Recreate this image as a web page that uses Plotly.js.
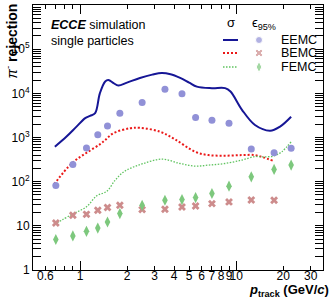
<!DOCTYPE html>
<html><head><meta charset="utf-8">
<script src="https://cdn.plot.ly/plotly-3.0.1.min.js"></script>
<style>html,body{margin:0;padding:0;background:#fff}#chart{width:332px;height:298px}</style>
</head><body><div id="chart"></div>
<script>
// ---- data ----
const binP = [0.7, 0.9, 1.1, 1.3, 1.5, 1.8, 2.5, 3.5, 4.5, 5.5, 7, 9, 12.5, 17.5, 22.5];
const eemcEff = [82, 246, 577, 1150, 1820, 3550, 6170, 12400, 9750, 2820, 2450, 2100, 550, 450, 570];
const bemcP = [0.7, 0.9, 1.1, 1.3, 1.5, 1.8, 2.5, 3.5, 4.5, 5.5, 7, 9, 12.5, 17.5];
const bemcEff = [11.6, 17.3, 18.2, 22.5, 26, 29.3, 23.3, 23.7, 26.8, 28.2, 31.8, 34.8, 38.5, 38];
const femcEff = [4.9, 5.9, 7.5, 8.9, 12.2, 18.9, 29.2, 38, 39.4, 43.7, 54, 79, 129, 189, 237];

const eemcSigP = [0.69, 0.82, 0.95, 1.08, 1.16, 1.25, 1.34, 1.45, 1.52, 1.64, 1.76, 2.0, 2.42, 2.9, 3.34, 3.8, 4.38, 5.0, 5.6, 7.0, 8.5, 9.2, 10.9, 13.2, 16.5, 19.1, 22.5];
const eemcSig = [617, 1050, 1760, 2740, 3090, 3550, 10000, 18600, 20000, 17000, 15000, 17500, 22300, 26500, 28800, 27000, 22300, 17500, 14200, 13100, 13100, 11000, 4240, 1920, 1430, 1770, 2960];
const bemcSigP = [0.684, 0.885, 1.1, 1.34, 1.45, 1.63, 2.09, 2.42, 3.26, 4.06, 5.46, 6.65, 8.5, 10.9, 13.2, 14.9, 17.3];
const bemcSig = [88, 259, 450, 700, 875, 1245, 1620, 1660, 1350, 910, 475, 400, 388, 400, 400, 355, 296];
const femcSigP = [0.684, 0.885, 1.1, 1.28, 1.48, 1.68, 1.9, 2.2, 2.55, 3.34, 4.38, 5.46, 6.65, 8.5, 10.9, 13.2, 14.9, 17.3, 19.6, 22.5];
const femcSig = [10.8, 18, 27, 48, 60, 108, 166, 215, 258, 324, 258, 225, 237, 258, 309, 370, 365, 380, 475, 800];

const xTickVals = [0.6, 1, 2, 3, 4, 5, 6, 7, 8, 9, 10, 20, 30];
const xTickText = ['0.6', '1', '2', '3', '4', '5', '6', '7', '8', '9', '10', '20', '30'];
const yTickVals = [1, 10, 100, 1000, 10000, 100000, 1000000];
const yTickText = ['1', '10', '10<sup>2</sup>', '10<sup>3</sup>', '10<sup>4</sup>', '10<sup>5</sup>', '10<sup>6</sup>'];

// ---- styles ----
const cBlueLine = 'rgb(22,22,150)', cRedLine = 'rgb(235,25,25)', cGreenLine = 'rgb(95,195,95)';
const cBlueMk = 'rgb(145,145,215)', cRedMk = 'rgb(205,140,140)', cGreenMk = 'rgb(125,200,125)';
const FONT = 'Liberation Sans, Arial, Helvetica, sans-serif';
const redDash = '2px,2px', greenDash = '1.5px,1.5px';

const yMinor = [];
for (let d = 0; d < 6; d++) for (let k = 2; k <= 9; k++) yMinor.push(k * Math.pow(10, d));

const traces = [
  {x: eemcSigP, y: eemcSig, mode: 'lines', line: {color: cBlueLine, width: 2, shape: 'spline', smoothing: 1}, showlegend: false},
  {x: bemcSigP, y: bemcSig, mode: 'lines', line: {color: cRedLine, width: 2, dash: redDash, shape: 'spline', smoothing: 1}, showlegend: false},
  {x: femcSigP, y: femcSig, mode: 'lines', line: {color: cGreenLine, width: 1.3, dash: greenDash, shape: 'spline', smoothing: 1}, showlegend: false},
  {x: binP, y: eemcEff, mode: 'markers', marker: {symbol: 'circle', size: 7, color: cBlueMk}, showlegend: false},
  {x: bemcP, y: bemcEff, mode: 'markers', marker: {symbol: 'x', size: 7, color: cRedMk}, showlegend: false},
  {x: binP, y: femcEff, mode: 'markers', marker: {symbol: 'diamond-tall', size: 8, color: cGreenMk}, showlegend: false},
  {x: [], y: [], xaxis: 'x2', yaxis: 'y', showlegend: false},
  // legend marker samples on a pixel-like helper axis
  {x: [259, 259, 259], y: [40, 53, 67], xaxis: 'x3', yaxis: 'y3', mode: 'markers', showlegend: false,
   marker: {symbol: ['circle', 'x', 'diamond-tall'], size: [7, 7, 8], color: [cBlueMk, cRedMk, cGreenMk]}}
];

const axisCommon = {showline: true, linecolor: '#000', linewidth: 1, mirror: 'allticks', ticks: 'inside',
  tickcolor: '#000', showgrid: false, zeroline: false, tickfont: {family: FONT, size: 12, color: '#000'}};

const px2x = p => (p - 33) / 290, py2y = p => (270 - p) / 265;

const layout = {
  width: 332, height: 298,
  margin: {l: 33, r: 9, t: 5, b: 28},
  paper_bgcolor: '#fff', plot_bgcolor: '#fff',
  font: {family: FONT, color: '#000'},
  showlegend: false,
  xaxis: Object.assign({}, axisCommon, {type: 'log', range: [Math.log10(0.5), Math.log10(36)],
    tickmode: 'array', tickvals: xTickVals, ticktext: xTickText, ticklen: 4, tickangle: 0, ticklabelstandoff: -5,
    minor: {tickmode: 'array', tickvals: [0.7, 0.8, 0.9], ticks: 'inside', ticklen: 4, tickcolor: '#000'}}),
  xaxis2: {type: 'log', range: [Math.log10(0.5), Math.log10(36)], overlaying: 'x', anchor: 'y', side: 'bottom',
    tickmode: 'array', tickvals: [1, 10], ticks: 'inside', ticklen: 9, tickcolor: '#000', mirror: 'ticks',
    showticklabels: false, showgrid: false, zeroline: false, showline: false},
  yaxis: Object.assign({}, axisCommon, {type: 'log', range: [0, 6],
    tickmode: 'array', tickvals: yTickVals, ticktext: yTickText, ticklen: 8,
    minor: {tickmode: 'array', tickvals: yMinor, ticks: 'inside', ticklen: 4, tickcolor: '#000'}}),
  xaxis3: {overlaying: 'x', anchor: 'y3', range: [33, 323], visible: false},
  yaxis3: {overlaying: 'y', anchor: 'x3', range: [270, 5], visible: false},
  shapes: [
    {type: 'line', xref: 'paper', yref: 'paper', x0: px2x(223), x1: px2x(238), y0: py2y(40), y1: py2y(40), line: {color: cBlueLine, width: 2}},
    {type: 'line', xref: 'paper', yref: 'paper', x0: px2x(223), x1: px2x(238), y0: py2y(53), y1: py2y(53), line: {color: cRedLine, width: 2, dash: redDash}},
    {type: 'line', xref: 'paper', yref: 'paper', x0: px2x(223), x1: px2x(238), y0: py2y(67), y1: py2y(67), line: {color: cGreenLine, width: 1.3, dash: greenDash}}
  ],
  annotations: [
    {xref: 'paper', yref: 'paper', x: px2x(49), y: py2y(25), xanchor: 'left', yanchor: 'middle', showarrow: false,
     text: '<b><i>ECCE</i></b> simulation', font: {family: FONT, size: 12.5, color: '#000'}},
    {xref: 'paper', yref: 'paper', x: px2x(49), y: py2y(41), xanchor: 'left', yanchor: 'middle', showarrow: false,
     text: 'single particles', font: {family: FONT, size: 12.5, color: '#000'}},
    {xref: 'paper', yref: 'paper', x: px2x(231), y: py2y(23), xanchor: 'center', yanchor: 'middle', showarrow: false,
     text: 'σ', font: {family: FONT, size: 13, color: '#000'}},
    {xref: 'paper', yref: 'paper', x: px2x(250), y: py2y(24), xanchor: 'left', yanchor: 'middle', showarrow: false,
     text: 'ϵ<sub>95%</sub>', font: {family: FONT, size: 13, color: '#000'}},
    {xref: 'paper', yref: 'paper', x: px2x(279), y: py2y(40), xanchor: 'left', yanchor: 'middle', showarrow: false,
     text: 'EEMC', font: {family: FONT, size: 12.5, color: '#000'}},
    {xref: 'paper', yref: 'paper', x: px2x(279), y: py2y(53), xanchor: 'left', yanchor: 'middle', showarrow: false,
     text: 'BEMC', font: {family: FONT, size: 12.5, color: '#000'}},
    {xref: 'paper', yref: 'paper', x: px2x(279), y: py2y(67), xanchor: 'left', yanchor: 'middle', showarrow: false,
     text: 'FEMC', font: {family: FONT, size: 12.5, color: '#000'}},
    {xref: 'paper', yref: 'paper', x: px2x(11), y: py2y(2), xanchor: 'center', yanchor: 'top', showarrow: false, textangle: -90,
     text: '<i>π</i><sup>-</sup> <b>rejection</b>', font: {family: FONT, size: 14, color: '#000'}},
    {xref: 'paper', yref: 'paper', x: px2x(331), y: py2y(301), xanchor: 'right', yanchor: 'bottom', showarrow: false,
     text: '<b><i>p</i></b><sub><b>track</b></sub> <b>(GeV/<i>c</i>)</b>', font: {family: FONT, size: 13, color: '#000'}}
  ]
};

Plotly.newPlot('chart', traces, layout, {staticPlot: true, displayModeBar: false});
</script>
</body></html>
